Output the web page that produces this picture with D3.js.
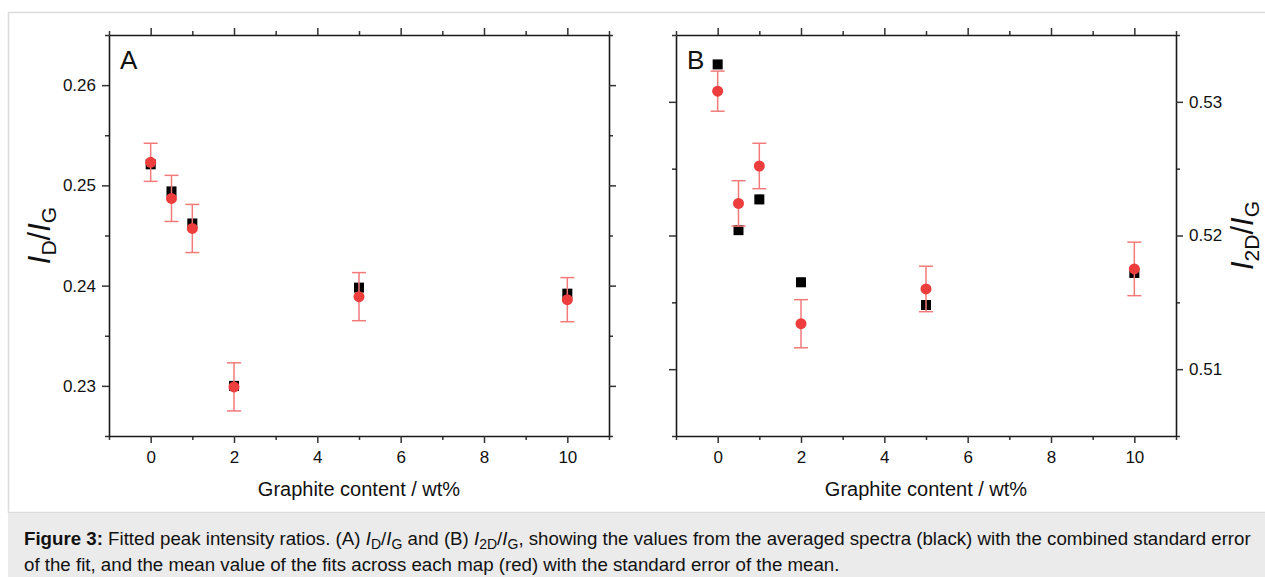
<!DOCTYPE html>
<html>
<head>
<meta charset="utf-8">
<script src="https://cdn.jsdelivr.net/npm/d3@7/dist/d3.min.js"></script>
<style>
  html, body { margin: 0; padding: 0; background: #fff; }
  svg { display: block; font-family: "Liberation Sans", Arial, sans-serif; }
</style>
</head>
<body>
<svg id="fig" width="1265" height="577"></svg>
<script>
// Graphite content (wt%) of each sample
const content = [0, 0.5, 1, 2, 5, 10];

// Panel A: I_D/I_G
const idigAvg    = [0.2521, 0.2494, 0.2462, 0.2300, 0.2398, 0.2392]; // averaged spectra (black)
const idigAvgErr = [0.0003, 0.0003, 0.0003, 0.0003, 0.0003, 0.0003];
const idigMean   = [0.2523, 0.2487, 0.2457, 0.2299, 0.2389, 0.2386]; // mean over map (red)
const idigMeanErr= [0.0019, 0.0023, 0.0024, 0.0024, 0.0024, 0.0022];

// Panel B: I_2D/I_G
const i2dAvg     = [0.5328, 0.5204, 0.5227, 0.5165, 0.5148, 0.5172];
const i2dAvgErr  = [0.0002, 0.0003, 0.0003, 0.0003, 0.0003, 0.0003];
const i2dMean    = [0.5308, 0.5224, 0.5252, 0.5134, 0.5160, 0.5175];
const i2dMeanErr = [0.0015, 0.0017, 0.0017, 0.0018, 0.0017, 0.0020];

const xTicks = [0, 2, 4, 6, 8, 10];
const xMinor = [-1, 1, 3, 5, 7, 9, 11];
const yTicksA = [0.23, 0.24, 0.25, 0.26];
const yMinorA = [0.225, 0.235, 0.245, 0.255, 0.265];
const yTicksB = [0.51, 0.52, 0.53];
const yMinorB = [0.505, 0.515, 0.525, 0.535];

const svg = d3.select("#fig");
const RED = "#ee3d3d", RED_BAR = "#f27a7a", AXIS = "#1a1a1a";

// figure frame and caption box
svg.append("rect").attr("x", 8.5).attr("y", 12.5).attr("width", 1270).attr("height", 500)
  .attr("fill", "#fff").attr("stroke", "#dcdcdc").attr("stroke-width", 1.5);
svg.append("rect").attr("x", 8).attr("y", 513).attr("width", 1260).attr("height", 70)
  .attr("fill", "#ebebeb");

function panel(opt) {
  const x = d3.scaleLinear().domain([-1, 11]).range([opt.left, opt.right]);
  const y = d3.scaleLinear().domain(opt.yDomain).range([opt.bottom, opt.top]);
  const g = svg.append("g");

  const tickLine = (sel) => sel.selectAll(".domain").attr("stroke", AXIS).attr("stroke-width", 1.6);
  const styleTicks = (sel) => {
    sel.selectAll(".tick line").attr("stroke", "#333").attr("stroke-width", 1.5);
    sel.selectAll(".tick text").attr("font-size", 17).attr("fill", "#111")
      .attr("font-family", "Liberation Sans, Arial, sans-serif");
  };

  // minor ticks first (short), then major axes
  const minorAxes = [
    [d3.axisBottom(x).tickValues(xMinor).tickSize(4).tickFormat(""), `translate(0,${opt.bottom})`],
    [d3.axisTop(x).tickValues(xMinor).tickSize(4).tickFormat(""), `translate(0,${opt.top})`],
    [d3.axisLeft(y).tickValues(opt.yMinor).tickSize(4).tickFormat(""), `translate(${opt.left},0)`],
    [d3.axisRight(y).tickValues(opt.yMinor).tickSize(4).tickFormat(""), `translate(${opt.right},0)`]
  ];
  minorAxes.forEach(([ax, tr]) => {
    const s = g.append("g").attr("transform", tr).call(ax);
    s.selectAll(".domain").remove();
    styleTicks(s);
  });

  const fmt = d3.format(".2f");
  const bottomAx = g.append("g").attr("transform", `translate(0,${opt.bottom})`)
    .call(d3.axisBottom(x).tickValues(xTicks).tickSize(7).tickPadding(8).tickSizeOuter(0).tickFormat(d3.format("d")));
  const topAx = g.append("g").attr("transform", `translate(0,${opt.top})`)
    .call(d3.axisTop(x).tickValues(xTicks).tickSize(7).tickSizeOuter(0).tickFormat(""));
  const leftAx = g.append("g").attr("transform", `translate(${opt.left},0)`)
    .call(d3.axisLeft(y).tickValues(opt.yTicks).tickSize(7).tickPadding(6).tickSizeOuter(0)
      .tickFormat(opt.labelSide === "left" ? fmt : ""));
  const rightAx = g.append("g").attr("transform", `translate(${opt.right},0)`)
    .call(d3.axisRight(y).tickValues(opt.yTicks).tickSize(7).tickPadding(6).tickSizeOuter(0)
      .tickFormat(opt.labelSide === "right" ? fmt : ""));
  [bottomAx, topAx, leftAx, rightAx].forEach(s => { tickLine(s); styleTicks(s); });

  // panel letter
  g.append("text").attr("x", opt.left + 11).attr("y", opt.top + 34)
    .attr("font-size", 26).attr("fill", "#111").text(opt.letter);

  // x axis title
  g.append("text").attr("x", (opt.left + opt.right) / 2).attr("y", 496)
    .attr("text-anchor", "middle").attr("font-size", 20).attr("fill", "#111")
    .text("Graphite content / wt%");

  // y axis title with italic I and subscripts
  const ty = g.append("text")
    .attr("transform", `translate(${opt.titleX},${(opt.top + opt.bottom) / 2}) rotate(-90)`)
    .attr("text-anchor", "middle").attr("font-size", 31).attr("fill", "#111");
  ty.append("tspan").attr("font-style", "italic").text("I");
  ty.append("tspan").attr("font-size", 21).attr("dy", 6).text(opt.sub1);
  ty.append("tspan").attr("dy", -6).text("/");
  ty.append("tspan").attr("font-style", "italic").text("I");
  ty.append("tspan").attr("font-size", 21).attr("dy", 6).text("G");

  // error bars helper
  function errBars(vals, errs, color, cap, width) {
    const d = content.map((c, i) => ({ c, v: vals[i], e: errs[i] }));
    const eg = g.append("g").attr("stroke", color).attr("stroke-width", width);
    eg.selectAll("line.v").data(d).join("line")
      .attr("x1", d => x(d.c)).attr("x2", d => x(d.c))
      .attr("y1", d => y(d.v - d.e)).attr("y2", d => y(d.v + d.e));
    eg.selectAll("line.t").data(d).join("line")
      .attr("x1", d => x(d.c) - cap).attr("x2", d => x(d.c) + cap)
      .attr("y1", d => y(d.v + d.e)).attr("y2", d => y(d.v + d.e));
    eg.selectAll("line.b").data(d).join("line")
      .attr("x1", d => x(d.c) - cap).attr("x2", d => x(d.c) + cap)
      .attr("y1", d => y(d.v - d.e)).attr("y2", d => y(d.v - d.e));
  }

  // averaged-spectra values (black squares)
  errBars(opt.avg, opt.avgErr, "#222", 3, 1.3);
  g.append("g").selectAll("rect").data(content).join("rect")
    .attr("x", (c) => x(c) - 5).attr("y", (c, i) => y(opt.avg[i]) - 5)
    .attr("width", 10).attr("height", 10).attr("fill", "#000");

  // map-mean values (red circles)
  errBars(opt.mean, opt.meanErr, RED_BAR, 7, 1.5);
  g.append("g").selectAll("circle").data(content).join("circle")
    .attr("cx", (c) => x(c)).attr("cy", (c, i) => y(opt.mean[i]))
    .attr("r", 5.5).attr("fill", RED);
}

panel({
  left: 109, right: 609, top: 35, bottom: 436,
  yDomain: [0.225, 0.265], yTicks: yTicksA, yMinor: yMinorA,
  labelSide: "left", letter: "A", sub1: "D", titleX: 50,
  avg: idigAvg, avgErr: idigAvgErr, mean: idigMean, meanErr: idigMeanErr
});

panel({
  left: 676, right: 1176, top: 35, bottom: 436,
  yDomain: [0.505, 0.535], yTicks: yTicksB, yMinor: yMinorB,
  labelSide: "right", letter: "B", sub1: "2D", titleX: 1253,
  avg: i2dAvg, avgErr: i2dAvgErr, mean: i2dMean, meanErr: i2dMeanErr
});

// caption
const cap = svg.append("g").attr("font-size", 18.7).attr("fill", "#111");
const l1 = cap.append("text").attr("x", 24).attr("y", 545);
l1.append("tspan").attr("font-weight", "bold").text("Figure 3:");
l1.append("tspan").text(" Fitted peak intensity ratios. (A) ");
l1.append("tspan").attr("font-style", "italic").text("I");
l1.append("tspan").attr("font-size", 14).attr("dy", 4).text("D");
l1.append("tspan").attr("dy", -4).text("/");
l1.append("tspan").attr("font-style", "italic").text("I");
l1.append("tspan").attr("font-size", 14).attr("dy", 4).text("G");
l1.append("tspan").attr("dy", -4).text(" and (B) ");
l1.append("tspan").attr("font-style", "italic").text("I");
l1.append("tspan").attr("font-size", 14).attr("dy", 4).text("2D");
l1.append("tspan").attr("dy", -4).text("/");
l1.append("tspan").attr("font-style", "italic").text("I");
l1.append("tspan").attr("font-size", 14).attr("dy", 4).text("G");
l1.append("tspan").attr("dy", -4).text(", showing the values from the averaged spectra (black) with the combined standard error");
cap.append("text").attr("x", 24).attr("y", 571)
  .text("of the fit, and the mean value of the fits across each map (red) with the standard error of the mean.");
</script>
</body>
</html>
